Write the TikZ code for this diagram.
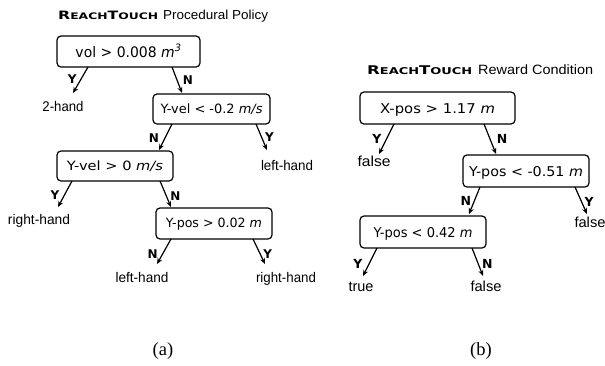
\documentclass[tikz,border=0pt]{standalone}
\usepackage{fontspec}
\usepackage{graphicx}
\usetikzlibrary{arrows.meta,calc}
\setmainfont{Liberation Sans}
\newfontfamily\dv{DejaVu Sans}
\newfontfamily\tms{Liberation Serif}
\newcommand{\ft}[3]{\fontsize{#1}{#1}\selectfont\resizebox{#2}{\height}{#3}}
\newcommand{\RT}[3]{\resizebox{#3}{\height}{\dv\bfseries\fontsize{#1}{#1}\selectfont R\fontsize{#2}{#2}\selectfont EACH\fontsize{#1}{#1}\selectfont T\fontsize{#2}{#2}\selectfont OUCH}}
\tikzset{
  box/.style={draw, rounded corners=4pt, line width=1.2pt, inner sep=0pt, outer sep=0pt, text depth=0pt, text height=#1, font=\dv},
  box/.default=8pt,
  leaf/.style={inner sep=0pt, anchor=base},
  arr/.style={line width=1.2pt, -{Stealth[length=6pt,width=5pt]}},
  lab/.style={inner sep=0pt, font=\dv\bfseries\fontsize{12pt}{12pt}\selectfont},
  labr/.style={inner sep=0pt, font=\dv\bfseries\fontsize{12.5pt}{12.5pt}\selectfont},
  ttl/.style={inner sep=0pt, anchor=base west},
  captxt/.style={inner sep=0pt, anchor=base, font=\tms\fontsize{18.5pt}{18.5pt}\selectfont}
}
\begin{document}
\begin{tikzpicture}[x=1pt,y=-1pt]
\useasboundingbox (0,0) rectangle (605,365);
% titles
\node[ttl] (t1) at (58,19.5) {\RT{11.5pt}{9pt}{100pt}\hspace{5pt}\ft{13pt}{105pt}{Procedural Policy}};
\node[ttl] (t2) at (367,74) {\RT{12pt}{9.4pt}{105pt}\hspace{6pt}\ft{13.5pt}{115pt}{Reward Condition}};
% left tree
\node[box=11pt, minimum width=143pt, minimum height=31pt] (b1) at (128.5,51.5) {\ft{14.5pt}{106pt}{vol > 0.008 \textit{m\textsuperscript{3}}}};
\node[box=8pt, minimum width=117pt, minimum height=30pt] (b2) at (211.5,109) {\ft{12.8pt}{102pt}{Y-vel < -0.2 \textit{m/s}}};
\node[box=9pt, minimum width=116pt, minimum height=30pt] (b3) at (115,166) {\ft{12.8pt}{96pt}{Y-vel > 0 \textit{m/s}}};
\node[box=8.6pt, minimum width=116pt, minimum height=31pt] (b4) at (214,223.5) {\ft{12.8pt}{96pt}{Y-pos > 0.02 \textit{m}}};
\node[leaf] (l1) at (63,111.7) {\ft{14pt}{41pt}{2-hand}};
\node[leaf] (l2) at (287,170) {\ft{14pt}{52pt}{left-hand}};
\node[leaf] (l3) at (39,224) {\ft{14pt}{62pt}{right-hand}};
\node[leaf] (l4) at (142,282.7) {\ft{14pt}{53pt}{left-hand}};
\node[leaf] (l5) at (286,282.7) {\ft{14pt}{60pt}{right-hand}};
\draw[arr] ($(b1.south west)+(31,0)$) -- ($(l1.base)+(10,-18.7)$) node[lab,pos=0.46,xshift=-9pt]{Y};
\draw[arr] ($(b1.south west)+(115,0)$) -- ($(b2.north west)+(29,-1)$) node[lab,pos=0.5,xshift=11pt]{N};
\draw[arr] ($(b2.south west)+(19,0)$) -- ($(b3.north west)+(102,-1)$) node[lab,pos=0.54,xshift=-11pt]{N};
\draw[arr] ($(b2.south west)+(103,0)$) -- ($(l2.base)+(-20,-20)$) node[lab,pos=0.5,xshift=8pt]{Y};
\draw[arr] ($(b3.south west)+(15,0)$) -- ($(l3.base)+(19,-17)$) node[lab,pos=0.54,xshift=-9.5pt]{Y};
\draw[arr] ($(b3.south west)+(103,0)$) -- ($(b4.north west)+(15,-1)$) node[lab,pos=0.58,xshift=9pt]{N};
\draw[arr] ($(b4.south west)+(15,0)$) -- ($(l4.base)+(15,-18.7)$) node[lab,pos=0.6,xshift=-10pt]{N};
\draw[arr] ($(b4.south west)+(97,0)$) -- ($(l5.base)+(-21,-18.7)$) node[lab,pos=0.6,xshift=7.5pt]{Y};
% right tree
\node[box=10.5pt, minimum width=155pt, minimum height=32pt] (r1) at (437.5,108) {\ft{13.5pt}{115pt}{X-pos > 1.17 \textit{m}}};
\node[box=10.5pt, minimum width=126pt, minimum height=32pt] (r2) at (526,171) {\ft{13.5pt}{114pt}{Y-pos < -0.51 \textit{m}}};
\node[box=10.5pt, minimum width=126pt, minimum height=32pt] (r3) at (423,232) {\ft{13.5pt}{99pt}{Y-pos < 0.42 \textit{m}}};
\node[leaf] (m1) at (374,166.7) {\ft{14.5pt}{33pt}{false}};
\node[leaf] (m2) at (590,227.3) {\ft{14.5pt}{31pt}{false}};
\node[leaf] (m3) at (361,291) {\ft{14.5pt}{25pt}{true}};
\node[leaf] (m4) at (486,291) {\ft{14.5pt}{31pt}{false}};
\draw[arr] ($(r1.south west)+(34,0)$) -- ($(m1.base)+(5,-12.7)$) node[labr,pos=0.5,xshift=-9.5pt]{Y};
\draw[arr] ($(r1.south west)+(124,0)$) -- ($(r2.north west)+(33,-1)$) node[labr,pos=0.5,xshift=12pt]{N};
\draw[arr] ($(r2.south west)+(17,0)$) -- ($(r3.north west)+(109,-2)$) node[labr,pos=0.52,xshift=-8.5pt]{N};
\draw[arr] ($(r2.south west)+(112,0)$) -- ($(m2.base)+(-3,-13.3)$) node[labr,pos=0.56,xshift=7.5pt]{Y};
\draw[arr] ($(r3.south west)+(17,0)$) -- ($(m3.base)+(2,-15)$) node[labr,pos=0.57,xshift=-11pt]{Y};
\draw[arr] ($(r3.south west)+(112,0)$) -- ($(m4.base)+(-3,-15)$) node[labr,pos=0.57,xshift=9pt]{N};
% captions
\node[captxt] (ca) at (163,355.5) {(a)};
\node[captxt] (cb) at (481,355.5) {(b)};
\end{tikzpicture}
\end{document}
